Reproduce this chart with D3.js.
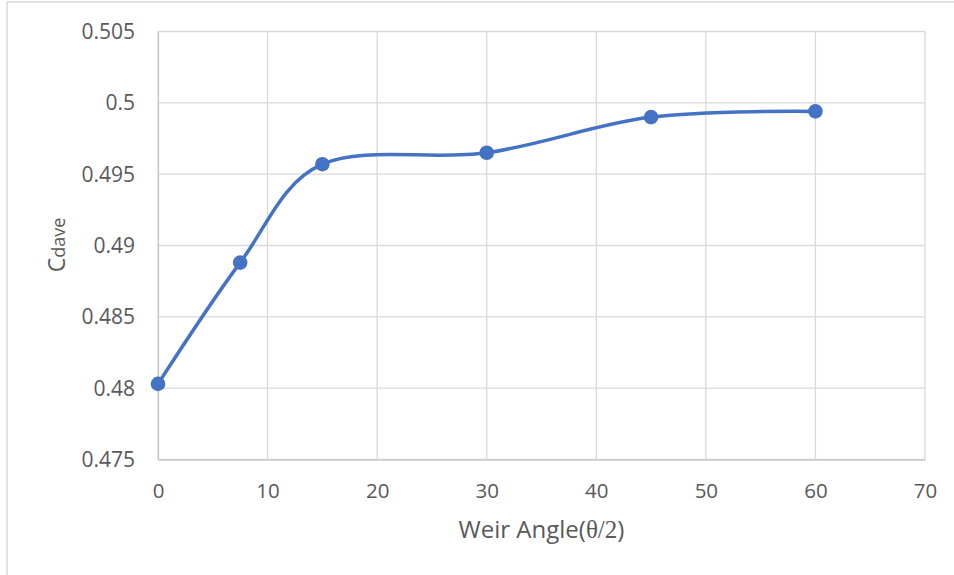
<!DOCTYPE html>
<html>
<head>
<meta charset="utf-8">
<script src="https://cdn.jsdelivr.net/npm/d3@7"></script>
<style>
  html, body { margin: 0; padding: 0; background: #fff; }
  svg { display: block; }
</style>
</head>
<body>
<svg id="chart" width="954" height="575"></svg>
<script>
// Average discharge coefficient against weir half-angle
const weirAngle = [0, 7.5, 15, 30, 45, 60];
const cdave = [0.4803, 0.4888, 0.4957, 0.4965, 0.4990, 0.4994];
const xTicks = [0, 10, 20, 30, 40, 50, 60, 70];
const yTicks = [0.475, 0.48, 0.485, 0.49, 0.495, 0.5, 0.505];
const yTickLabels = ["0.475", "0.48", "0.485", "0.49", "0.495", "0.5", "0.505"];

const svg = d3.select("#chart");
const W = 954, H = 575;
const plot = { left: 158, right: 925, top: 31.5, bottom: 459.5 };

const textColor = "#595959";
const gridColor = "#D9D9D9";
const lineColor = "#4472C4";
const font = "'Open Sans', 'Segoe UI', sans-serif";

// chart frame
svg.append("rect")
  .attr("x", 7).attr("y", 2)
  .attr("width", W + 10).attr("height", H + 10)
  .attr("fill", "#fff")
  .attr("stroke", gridColor).attr("stroke-width", 1.5);

const x = d3.scaleLinear().domain([0, 70]).range([plot.left, plot.right]);
const y = d3.scaleLinear().domain([0.475, 0.505]).range([plot.bottom, plot.top]);

// gridlines
const grid = svg.append("g");
grid.selectAll("line.v").data(xTicks).join("line")
  .attr("x1", d => x(d)).attr("x2", d => x(d))
  .attr("y1", plot.top).attr("y2", plot.bottom)
  .attr("stroke", gridColor).attr("stroke-width", 1.3);
grid.selectAll("line.h").data(yTicks).join("line")
  .attr("x1", plot.left).attr("x2", plot.right)
  .attr("y1", d => y(d)).attr("y2", d => y(d))
  .attr("stroke", gridColor).attr("stroke-width", 1.3);

// axes
const xAxis = d3.axisBottom(x).tickValues(xTicks).tickSize(0).tickPadding(24)
  .tickFormat(d3.format("d"));
const gx = svg.append("g").attr("transform", `translate(0,${plot.bottom})`).call(xAxis);
gx.select(".domain").attr("stroke", "#C9C9C9").attr("stroke-width", 1.3);
gx.selectAll("text").attr("fill", textColor).attr("font-family", font).attr("font-size", 20.5);

const yAxis = d3.axisLeft(y).tickValues(yTicks).tickSize(0).tickPadding(23)
  .tickFormat((d, i) => yTickLabels[i]);
const gy = svg.append("g").attr("transform", `translate(${plot.left},0)`).call(yAxis);
gy.select(".domain").attr("stroke", "#C9C9C9").attr("stroke-width", 1.3);
gy.selectAll("text").attr("fill", textColor).attr("font-family", font).attr("font-size", 21)
  .attr("dy", "0.34em");

// smoothed series line
const pts = weirAngle.map((a, i) => [a, cdave[i]]);
const line = d3.line()
  .x(d => x(d[0])).y(d => y(d[1]))
  .curve(d3.curveCardinal.tension(0));
svg.append("path")
  .datum(pts)
  .attr("d", line)
  .attr("fill", "none")
  .attr("stroke", lineColor)
  .attr("stroke-width", 3.5)
  .attr("stroke-linecap", "round");

svg.append("g").selectAll("circle").data(pts).join("circle")
  .attr("cx", d => x(d[0])).attr("cy", d => y(d[1]))
  .attr("r", 7.3)
  .attr("fill", lineColor);

// axis titles
const xt = svg.append("text")
  .attr("x", (plot.left + plot.right) / 2).attr("y", 538)
  .attr("text-anchor", "middle")
  .attr("fill", textColor).attr("font-family", font).attr("font-size", 24);
xt.append("tspan").text("Weir Angle(");
xt.append("tspan").attr("font-family", "'Liberation Serif', 'DejaVu Serif', serif").attr("font-size", 25).text("θ/2");
xt.append("tspan").text(")");

const yt = svg.append("text")
  .attr("transform", "translate(65,245) rotate(-90)")
  .attr("text-anchor", "middle")
  .attr("fill", textColor).attr("font-family", font);
yt.append("tspan").attr("font-size", 23).text("C");
yt.append("tspan").attr("font-size", 18).text("dave");
</script>
</body>
</html>
